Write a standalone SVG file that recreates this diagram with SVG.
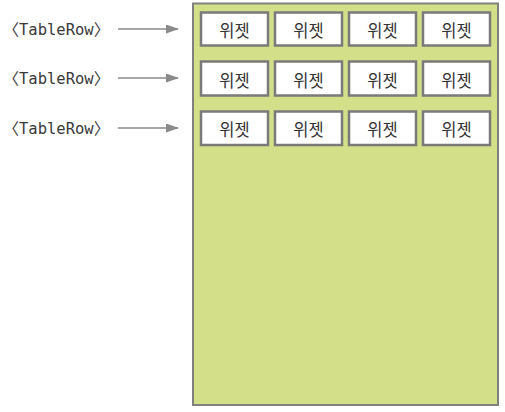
<svg xmlns="http://www.w3.org/2000/svg" width="505" height="412" viewBox="0 0 505 412">
<style>
.lbl{font-family:"DejaVu Sans Mono","Liberation Mono",monospace;font-size:15.5px;fill:#3a3a3a}
.br{font-family:"Noto Sans CJK KR",sans-serif;font-size:16px;font-feature-settings:"halt"}
.cell rect{fill:#fff;stroke:#7a7a7a;stroke-width:2.5}
.cell text{font-family:"Noto Sans CJK KR","Noto Sans",sans-serif;font-size:16.5px;fill:#333;text-anchor:middle}
.conn line{stroke:#8a8a8a;stroke-width:1.3}
</style>
<defs>
<marker id="ah" markerWidth="13" markerHeight="9" refX="12" refY="4.5" orient="auto" markerUnits="userSpaceOnUse">
<path d="M0,0 L13,4.5 L0,9 Z" fill="#8a8a8a"/>
</marker>
</defs>
<rect width="505" height="412" fill="#fff"/>
<g id="container">
<rect x="193" y="3.5" width="305" height="401.5" fill="#d3e089" stroke="#808080" stroke-width="2"/>
</g>
<g id="labels">
<text class="lbl" x="11" y="35"><tspan class="br">〈</tspan>TableRow<tspan class="br">〉</tspan></text>
<text class="lbl" x="11" y="84"><tspan class="br">〈</tspan>TableRow<tspan class="br">〉</tspan></text>
<text class="lbl" x="11" y="134"><tspan class="br">〈</tspan>TableRow<tspan class="br">〉</tspan></text>
</g>
<g class="conn" id="connectors">
<line x1="118" y1="29" x2="178" y2="29" marker-end="url(#ah)"/>
<line x1="118" y1="78" x2="178" y2="78" marker-end="url(#ah)"/>
<line x1="118" y1="128" x2="178" y2="128" marker-end="url(#ah)"/>
</g>
<g id="r1c1" class="cell"><rect x="201" y="12.5" width="67" height="33"/><text x="234.5" y="37">위젯</text></g>
<g id="r1c2" class="cell"><rect x="275" y="12.5" width="67" height="33"/><text x="308.5" y="37">위젯</text></g>
<g id="r1c3" class="cell"><rect x="349" y="12.5" width="67" height="33"/><text x="382.5" y="37">위젯</text></g>
<g id="r1c4" class="cell"><rect x="423" y="12.5" width="67" height="33"/><text x="456.5" y="37">위젯</text></g>
<g id="r2c1" class="cell"><rect x="201" y="61.5" width="67" height="34"/><text x="234.5" y="86.5">위젯</text></g>
<g id="r2c2" class="cell"><rect x="275" y="61.5" width="67" height="34"/><text x="308.5" y="86.5">위젯</text></g>
<g id="r2c3" class="cell"><rect x="349" y="61.5" width="67" height="34"/><text x="382.5" y="86.5">위젯</text></g>
<g id="r2c4" class="cell"><rect x="423" y="61.5" width="67" height="34"/><text x="456.5" y="86.5">위젯</text></g>
<g id="r3c1" class="cell"><rect x="201" y="111.5" width="67" height="33.5"/><text x="234.5" y="136">위젯</text></g>
<g id="r3c2" class="cell"><rect x="275" y="111.5" width="67" height="33.5"/><text x="308.5" y="136">위젯</text></g>
<g id="r3c3" class="cell"><rect x="349" y="111.5" width="67" height="33.5"/><text x="382.5" y="136">위젯</text></g>
<g id="r3c4" class="cell"><rect x="423" y="111.5" width="67" height="33.5"/><text x="456.5" y="136">위젯</text></g>
</svg>
